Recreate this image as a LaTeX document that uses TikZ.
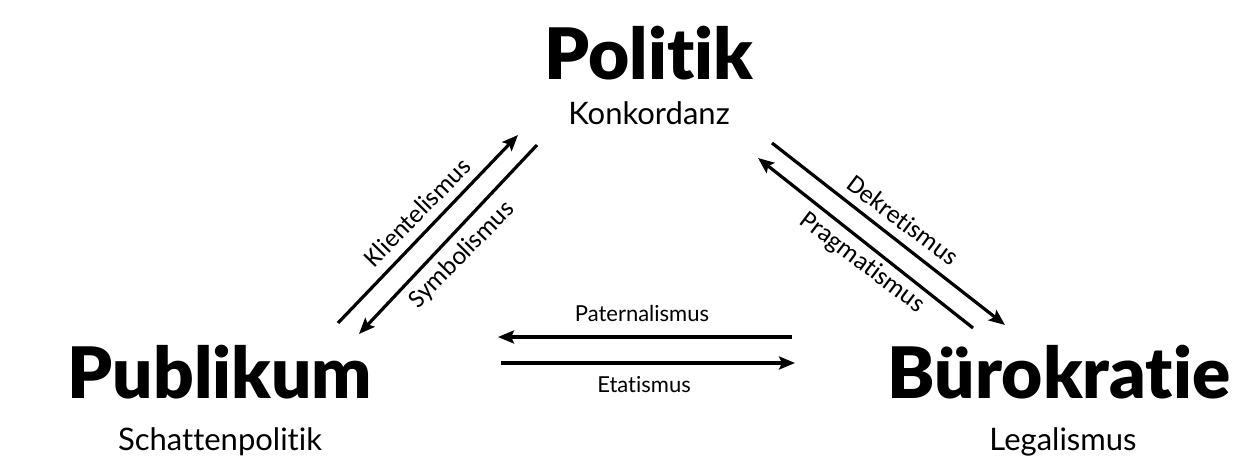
\documentclass[tikz,border=0pt]{standalone}
\usepackage{fontspec}
\usetikzlibrary{arrows.meta}
\setmainfont{Lato}[Ligatures=NoCommon]
\newfontfamily\heavy{Lato Black}[Ligatures=NoCommon]
\newfontfamily\labfont{Carlito}[Ligatures=NoCommon]
\tikzset{
  head/.style={font=\heavy\fontsize{71}{71}\selectfont, anchor=base, inner sep=0pt},
  sub/.style={font=\fontsize{31}{31}\selectfont, anchor=base, inner sep=0pt},
  hlab/.style={font=\fontsize{22}{22}\selectfont, anchor=base, inner sep=0pt},
  dlab/.style={font=\labfont\fontsize{26}{26}\selectfont, inner sep=0pt},
  arr/.style={line width=3.2pt, -{Stealth[length=16pt,width=13pt,inset=3pt]}}
}
\begin{document}
\begin{tikzpicture}[x=1pt,y=-1pt]
\useasboundingbox (0,0) rectangle (1256,470);
% corner terms
\node[head] (politik) at (649,80) {Politik};
\node[sub] (konk) at (649,125) {Konkordanz};
\node[head] (publikum) at (220,398) {Publikum};
\node[sub] (schatten) at (220,450) {Schattenpolitik};
\node[head] (buero) at (1059,398) {Bürokratie};
\node[sub] (legal) at (1063,450) {Legalismus};
% arrow end points
\coordinate (k1) at (338,323); \coordinate (k2) at (518,135);
\coordinate (s1) at (537,145); \coordinate (s2) at (359,334);
\coordinate (d1) at (772,143); \coordinate (d2) at (1005,325);
\coordinate (p1) at (973,328); \coordinate (p2) at (758,158);
\coordinate (pa1) at (792,337); \coordinate (pa2) at (498,337);
\coordinate (e1) at (501,363); \coordinate (e2) at (795,363);
\draw[arr] (k1) -- (k2);
\draw[arr] (s1) -- (s2);
\draw[arr] (d1) -- (d2);
\draw[arr] (p1) -- (p2);
\draw[arr] (pa1) -- (pa2);
\draw[arr] (e1) -- (e2);
% arrow labels
\node[dlab, rotate=45.5] (klient) at (417,212) {Klientelismus};
\node[dlab, rotate=45.5] (symbol) at (462,255) {Symbolismus};
\node[dlab, rotate=-37] (dekret) at (903,220) {Dekretismus};
\node[dlab, rotate=-37] (pragma) at (862,263) {Pragmatismus};
\node[hlab] (pater) at (642,322) {Paternalismus};
\node[hlab] (etat) at (644,392) {Etatismus};
\end{tikzpicture}
\end{document}
